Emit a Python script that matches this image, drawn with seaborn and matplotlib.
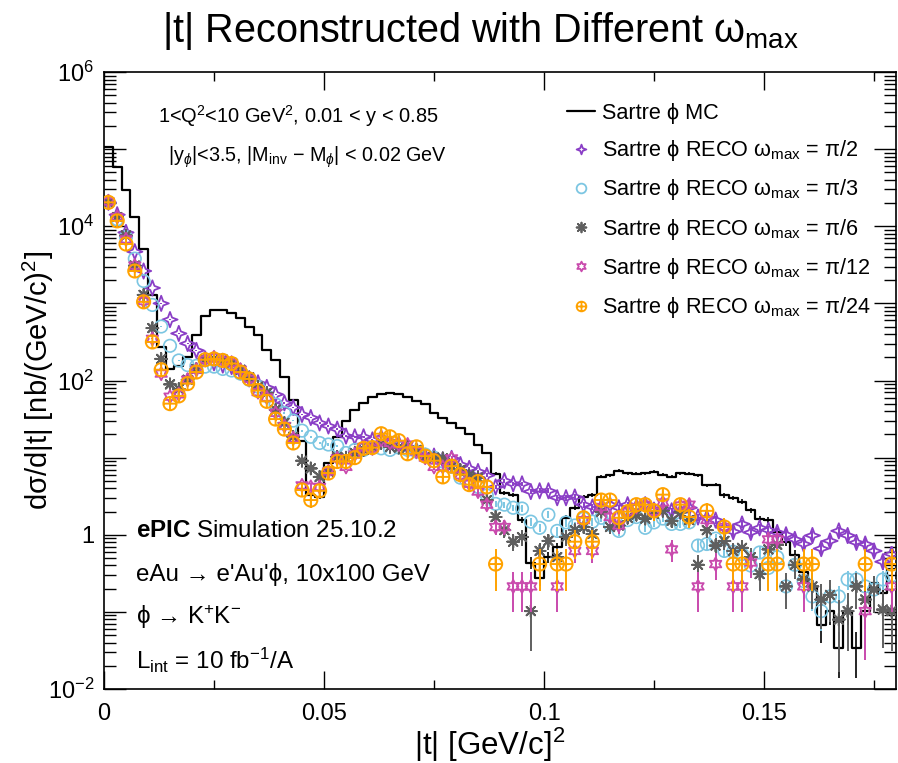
import numpy as np
import pandas as pd
import seaborn as sns
import matplotlib.pyplot as plt
from matplotlib.path import Path
from matplotlib.lines import Line2D
from matplotlib.ticker import LogLocator, MultipleLocator, FuncFormatter

nan = np.nan

# binning of |t| (GeV/c)^2
t_min, t_max, n_bins = 0.0, 0.18, 90

mc_log = [5.03, 4.77, 4.47, 4.12, 3.70, 3.11, 2.43, 2.15, 2.19, 2.30,
          2.59, 2.83, 2.91, 2.91, 2.88, 2.81, 2.70, 2.59, 2.40, 2.27,
          2.04, 1.75, 1.21, 0.52, 0.49, 0.93, 1.27, 1.47, 1.62, 1.71,
          1.78, 1.82, 1.84, 1.83, 1.79, 1.73, 1.69, 1.58, 1.52, 1.45,
          1.39, 1.30, 1.17, 1.06, 0.79, 0.54, 0.52, 0.19, -0.36, -0.56,
          -0.29, -0.16, 0.22, 0.35, 0.49, 0.52, 0.75, 0.77, 0.83, 0.80,
          0.79, 0.80, 0.82, 0.78, 0.75, 0.80, 0.79, 0.77, 0.64, 0.65,
          0.51, 0.48, 0.43, 0.32, 0.21, 0.19, 0.04, -0.09, -0.26, -0.48,
          -0.67, -1.17, -0.99, -1.47, -0.99, -1.47, -0.99, -0.62, -0.75, -0.45]

reco_pi2_log = [4.31, 4.15, 3.92, 3.67, 3.42, 3.20, 3.00, 2.79, 2.61, 2.48,
                2.39, 2.28, 2.23, 2.20, 2.18, 2.11, 2.02, 1.97, 1.91, 1.82,
                1.71, 1.65, 1.56, 1.52, 1.45, 1.41, 1.37, 1.28, 1.27, 1.27,
                1.23, 1.26, 1.19, 1.18, 1.13, 1.09, 1.02, 1.02, 0.97, 0.99,
                0.91, 0.86, 0.82, 0.77, 0.62, 0.70, 0.66, 0.66, 0.56, 0.57,
                0.57, 0.48, 0.48, 0.49, 0.39, 0.36, 0.36, 0.39, 0.35, 0.39,
                0.36, 0.39, 0.32, 0.34, 0.31, 0.30, 0.35, 0.23, 0.22, 0.19,
                0.09, 0.04, 0.14, 0.03, 0.09, 0.06, 0.03, 0.00, -0.06, -0.12,
                -0.01, -0.18, -0.08, 0.05, -0.01, -0.10, -0.12, -0.21, -0.35, -0.25]

reco_pi3_log = [4.31, 4.09, 3.86, 3.58, 3.29, 2.98, 2.70, 2.45, 2.26, 2.20,
                2.19, 2.18, 2.18, 2.15, 2.13, 2.09, 2.01, 1.92, 1.80, 1.69,
                1.58, 1.48, 1.35, 1.27, 1.19, 1.17, 1.15, 1.06, 1.10, 1.10,
                1.13, 1.12, 1.10, 1.13, 1.10, 1.08, 1.04, 1.00, 0.95, 0.88,
                0.74, 0.70, 0.62, 0.51, 0.40, 0.39, 0.35, 0.34, 0.17, 0.09,
                0.26, 0.05, 0.16, 0.12, 0.21, 0.17, 0.22, 0.13, 0.05, 0.19,
                0.23, 0.09, 0.16, 0.21, 0.14, 0.14, 0.16, -0.14, -0.12, -0.05,
                -0.21, -0.22, -0.25, -0.40, -0.23, -0.43, -0.29, -0.67, -0.39, -0.60,
                -0.80, -0.99, -0.80, -0.80, -0.58, -0.58, -0.67, -0.71, -0.58, -0.53]

reco_pi6_log = [4.31, 4.12, 3.88, 3.49, 3.11, 2.68, 2.28, 1.95, 1.89, 2.01,
                2.15, 2.27, 2.28, 2.27, 2.23, 2.14, 2.04, 1.92, 1.84, 1.62,
                1.45, 1.27, 0.96, 0.86, 0.75, 0.82, 1.01, 1.00, 1.06, 1.10,
                1.14, 1.19, 1.14, 1.13, 1.14, 1.10, 1.01, 1.00, 0.99, 0.89,
                0.84, 0.77, 0.74, 0.45, 0.23, 0.06, -0.09, -0.03, -0.99, -0.21,
                -0.08, -0.29, -0.03, 0.06, 0.10, 0.01, 0.30, 0.10, 0.12, 0.22,
                0.26, 0.21, 0.27, 0.31, 0.18, 0.29, 0.19, -0.39, 0.06, -0.14,
                -0.08, -0.21, -0.17, -0.29, -0.51, -0.19, -0.13, -0.67, -0.39, -0.58,
                -0.67, -0.84, -0.78, -1.10, -0.99, -0.67, -0.84, -0.71, -0.97, -0.99]

reco_pi12_log = [4.32, 4.12, 3.83, 3.49, 3.03, 2.54, 2.09, 1.79, 1.82, 2.01,
                 2.14, 2.27, 2.30, 2.26, 2.23, 2.14, 2.02, 1.85, 1.78, 1.58,
                 1.41, 1.25, 0.64, 0.62, 0.62, 0.82, 0.99, 0.88, 1.04, 1.14,
                 1.12, 1.23, 1.19, 1.17, 1.17, 1.08, 1.00, 0.88, 0.88, 0.99,
                 0.77, 0.66, 0.56, 0.39, 0.10, 0.10, -0.67, -0.67, -0.67, nan,
                 nan, -0.67, nan, -0.21, 0.19, -0.21, 0.36, 0.23, 0.12, 0.30,
                 0.36, 0.39, 0.30, 0.42, -0.19, 0.38, 0.39, -0.67, 0.19, -0.38,
                 0.10, -0.67, -0.67, -0.36, nan, -0.06, -0.06, nan, nan, -0.67,
                 nan, nan, nan, nan, nan, nan, -0.99, nan, nan, -0.67]

reco_pi24_log = [4.31, 4.07, 3.77, 3.42, 3.02, 2.50, 2.14, 1.70, 1.80, 1.96,
                 2.11, 2.27, 2.28, 2.26, 2.22, 2.11, 2.02, 1.87, 1.73, 1.50,
                 1.37, 1.19, 0.58, 0.45, 0.57, 0.80, 0.95, 0.95, 1.00, 1.12,
                 1.13, 1.31, 1.27, 1.22, 1.05, 1.14, 1.02, 0.96, 0.75, 0.89,
                 0.78, 0.65, 0.69, 0.62, -0.38, nan, nan, nan, nan, -0.38,
                 nan, -0.38, -0.38, -0.09, 0.22, -0.09, 0.45, 0.45, 0.22, 0.30,
                 0.39, 0.39, 0.31, 0.52, nan, 0.39, 0.23, nan, 0.31, nan,
                 0.10, -0.38, -0.38, nan, nan, -0.38, -0.38, nan, nan, -0.38,
                 -0.38, nan, nan, nan, nan, nan, -0.38, nan, nan, -0.38]

# effective event weight per sample, used for the sqrt(w*N) error bars
mc_weight = 0.012
reco_weights = [0.02, 0.02, 0.05, 0.06, 0.13]

reco_labels = ["\u03c0/2", "\u03c0/3", "\u03c0/6", "\u03c0/12", "\u03c0/24"]
reco_colors = ["#8a3ec6", "#7cc6e2", "#5f5f5f", "#c94aad", "#ffa200"]

# ROOT-like marker shapes
star4 = Path.unit_regular_star(4, 0.38)
star6 = Path.unit_regular_star(6, 0.55)
aster = Path.unit_regular_asterisk(8)
oplus = Path.make_compound_path(
    Path.unit_circle(),
    Path([(-1, 0), (1, 0), (0, -1), (0, 1)],
         [Path.MOVETO, Path.LINETO, Path.MOVETO, Path.LINETO]))
reco_markers = [star4, "o", aster, star6, oplus]
reco_sizes = [11, 9, 8.5, 9.5, 9.5]
reco_lw = [1.3, 1.2, 1.4, 1.3, 1.4]

edges = np.linspace(t_min, t_max, n_bins + 1)
centers = 0.5 * (edges[:-1] + edges[1:])


def with_errors(logs, w):
    y = 10 ** np.asarray(logs, dtype=float)
    err = np.sqrt(w * y)
    lo = np.minimum(err, 0.93 * y)
    return y, np.vstack([lo, err])


sns.set_theme(style="ticks")
plt.rcParams["font.family"] = ["Liberation Sans", "DejaVu Sans"]
plt.rcParams["mathtext.fontset"] = "custom"
plt.rcParams["mathtext.rm"] = "Liberation Sans"
plt.rcParams["mathtext.it"] = "Liberation Sans:italic"
plt.rcParams["mathtext.bf"] = "Liberation Sans:bold"
plt.rcParams["text.color"] = "black"
plt.rcParams["axes.labelcolor"] = "black"
plt.rcParams["xtick.color"] = "black"
plt.rcParams["ytick.color"] = "black"

fig = plt.figure(figsize=(8.98, 7.63), dpi=100)
ax = fig.add_axes([0.1158, 0.0970, 0.8820, 0.8086])
ax.set_yscale("log")

# MC histogram
mc, mc_err = with_errors(mc_log, mc_weight)
mc_df = pd.DataFrame({"t": centers, "w": mc})
sns.histplot(data=mc_df, x="t", weights="w", bins=n_bins, binrange=(t_min, t_max),
             element="step", fill=False, color="black", linewidth=1.6, ax=ax, zorder=2)
ax.errorbar(centers, mc, yerr=mc_err, fmt="none", ecolor="black",
            elinewidth=1.2, capsize=0, zorder=2)

# reconstructed samples
reco_logs = [reco_pi2_log, reco_pi3_log, reco_pi6_log, reco_pi12_log, reco_pi24_log]
handles = [Line2D([], [], color="black", lw=1.6)]
labels = ["Sartre \u03d5 MC"]
for i, logs in enumerate(reco_logs):
    y, yerr = with_errors(logs, reco_weights[i])
    c = reco_colors[i]
    ax.errorbar(centers, y, yerr=yerr, fmt="none", ecolor=c, elinewidth=1.4,
                capsize=0, zorder=3 + i)
    sns.scatterplot(x=centers, y=y, marker=reco_markers[i], s=reco_sizes[i] ** 2,
                    facecolor="none", edgecolor=c, linewidth=reco_lw[i],
                    ax=ax, zorder=3 + i, legend=False)
    handles.append(Line2D([], [], ls="none", marker=reco_markers[i], ms=7,
                          mfc="none", mec=c, mew=1.3))
    labels.append("Sartre \u03d5 RECO \u03c9$_{\\mathregular{max}}$ = " + reco_labels[i])

ax.set_xlim(t_min, t_max)
ax.set_ylim(1e-2, 1e6)

ax.yaxis.set_major_locator(LogLocator(base=10, numticks=20))
ax.yaxis.set_minor_locator(LogLocator(base=10, subs=np.arange(2, 10), numticks=100))


def log_label(v, pos):
    e = int(round(np.log10(v)))
    if e % 2:
        return ""
    if e == 0:
        return "1"
    return "$10^{%d}$" % e


ax.yaxis.set_major_formatter(FuncFormatter(log_label))
ax.xaxis.set_major_locator(MultipleLocator(0.05))
ax.xaxis.set_minor_locator(MultipleLocator(0.025))
ax.xaxis.set_major_formatter(FuncFormatter(lambda v, p: "0" if v == 0 else f"{v:g}"))

ax.tick_params(which="both", direction="in", top=True, right=True, width=1.0,
               labelsize=17)
ax.tick_params(axis="y", which="major", length=16, pad=7)
ax.tick_params(axis="y", which="minor", length=8.5)
ax.tick_params(axis="x", which="major", length=13, pad=10)
ax.tick_params(axis="x", which="minor", length=6.5)
for s in ax.spines.values():
    s.set_linewidth(1.2)
    s.set_color("black")

ax.set_xlabel("|t| [GeV/c]$^{2}$", fontsize=22.5)
ax.set_ylabel("d\u03c3/d|t| [nb/(GeV/c)$^{2}$]", fontsize=21)
ax.xaxis.set_label_coords(0.487, -0.06)
ax.yaxis.set_label_coords(-0.06, 0.5)

fig.text(0.535, 0.960, "|t| Reconstructed with Different \u03c9$_{\\mathregular{max}}$",
         ha="center", va="center", fontsize=28.5)

ax.legend(handles, labels, loc="upper left", bbox_to_anchor=(556 / 898, 1 - 92 / 763),
          bbox_transform=fig.transFigure, frameon=False, fontsize=15.6,
          handlelength=1.3, handletextpad=0.32, labelspacing=0.66, borderpad=0)

fig.text(158 / 898, 1 - 116 / 763, "1<Q$^{2}$<10 GeV$^{2}$, 0.01 < y < 0.85",
         ha="left", va="center", fontsize=14.4)
fig.text(168 / 898, 1 - 157 / 763,
         "|y$_{\\phi}$|<3.5, |M$_{\\mathregular{inv}}$ \u2212 M$_{\\phi}$| < 0.02 GeV",
         ha="left", va="center", fontsize=14.2)

info = ["$\\mathbf{ePIC}$ Simulation 25.10.2",
        "eAu \u2192 e'Au'\u03d5, 10x100 GeV",
        "\u03d5 \u2192 K$^{+}$K$^{-}$",
        "L$_{\\mathregular{int}}$ = 10 fb$^{-1}$/A"]
for txt, py in zip(info, [531, 575, 617, 660]):
    fig.text(136 / 898, 1 - py / 763, txt, ha="left", va="center", fontsize=17.4)

fig.savefig("out.png", dpi=100)
